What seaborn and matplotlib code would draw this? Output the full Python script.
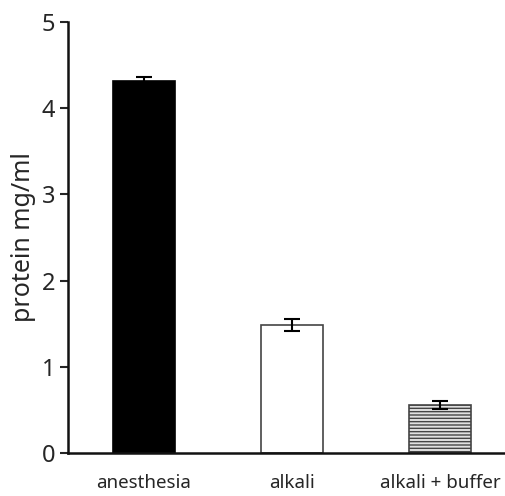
import matplotlib
matplotlib.use("Agg")
import matplotlib.pyplot as plt
import seaborn as sns
import numpy as np

categories = ["anesthesia", "alkali", "alkali + buffer"]
values = [4.31, 1.49, 0.56]
errors = [0.05, 0.07, 0.045]
face_colors = ["#000000", "#ffffff", "#cccccc"]
y_ticks = [0, 1, 2, 3, 4, 5]

sns.set_style("white")
plt.rcParams["font.family"] = ["Noto Sans", "DejaVu Sans"]
plt.rcParams["hatch.color"] = "#555555"
plt.rcParams["hatch.linewidth"] = 1.0

fig = plt.figure(figsize=(5.05, 4.96), dpi=100)
ax = fig.add_axes([68/505, 1-453/496, (505-68)/505 + 0.01, (453-22)/496])

sns.barplot(x=categories, y=values, hue=categories, palette=face_colors,
            width=0.42, legend=False, ax=ax, edgecolor="#333333", linewidth=1.2,
            errorbar=None)
for i, p in enumerate(ax.patches):
    p.set_edgecolor("#444444" if i > 0 else "#000000")
ax.patches[2].set_hatch("-----")
ax.patches[2].set_facecolor("#e0e0e0")

ax.errorbar(np.arange(len(categories)), values, yerr=errors, fmt="none",
            ecolor="black", elinewidth=1.5, capsize=6, capthick=1.5)

ax.set_ylim(0, 5)
ax.set_xlim(-0.51, 2.47)
ax.set_yticks(y_ticks)
ax.set_yticklabels([str(t) for t in y_ticks], fontsize=17)
ax.set_ylabel("protein mg/ml", fontsize=18, labelpad=4)
ax.tick_params(axis="y", direction="out", length=6, width=1.5, left=True, pad=3)
ax.tick_params(axis="x", length=0, labelsize=13.5, pad=15)
for s in ["top", "right"]:
    ax.spines[s].set_visible(False)
for s in ["left", "bottom"]:
    ax.spines[s].set_linewidth(1.8)
    ax.spines[s].set_color("#111111")

fig.savefig("out.png", dpi=100)
